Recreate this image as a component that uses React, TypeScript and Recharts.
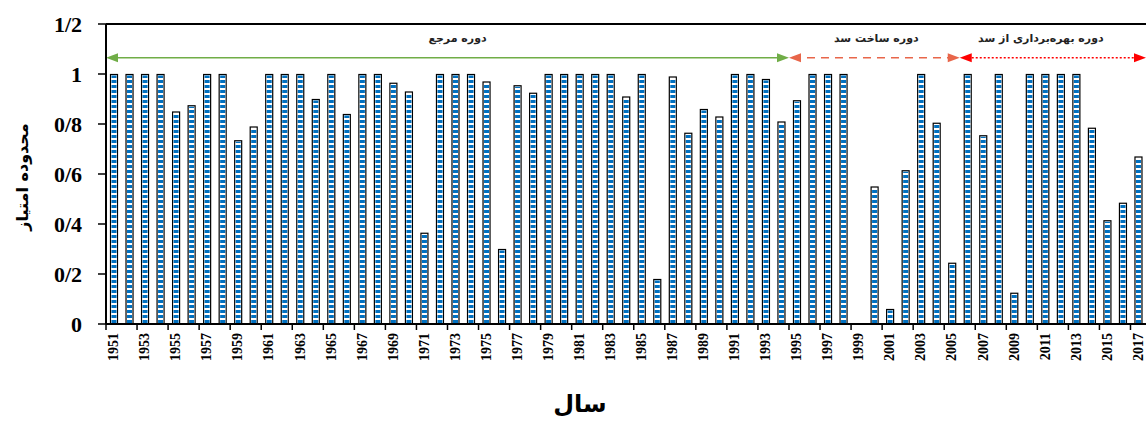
import React from "react";
import { BarChart, Bar, XAxis, YAxis, ReferenceLine } from "recharts";

// سال‌ها (categories)
const years = [
  1951, 1952, 1953, 1954, 1955, 1956, 1957, 1958, 1959, 1960,
  1961, 1962, 1963, 1964, 1965, 1966, 1967, 1968, 1969, 1970,
  1971, 1972, 1973, 1974, 1975, 1976, 1977, 1978, 1979, 1980,
  1981, 1982, 1983, 1984, 1985, 1986, 1987, 1988, 1989, 1990,
  1991, 1992, 1993, 1994, 1995, 1996, 1997, 1998, 1999, 2000,
  2001, 2002, 2003, 2004, 2005, 2006, 2007, 2008, 2009, 2010,
  2011, 2012, 2013, 2014, 2015, 2016, 2017,
];

// محدوده امتیاز per year
const scores = [
  1, 1, 1, 1, 0.85, 0.875, 1, 1, 0.735, 0.79,
  1, 1, 1, 0.9, 1, 0.84, 1, 1, 0.965, 0.93,
  0.365, 1, 1, 1, 0.97, 0.3, 0.955, 0.925, 1, 1,
  1, 1, 1, 0.91, 1, 0.18, 0.99, 0.765, 0.86, 0.83,
  1, 1, 0.98, 0.81, 0.895, 1, 1, 1, 0, 0.55,
  0.06, 0.615, 1, 0.805, 0.245, 1, 0.755, 1, 0.125, 1,
  1, 1, 1, 0.785, 0.415, 0.485, 0.67,
];

const yTicks = [0, 0.2, 0.4, 0.6, 0.8, 1, 1.2];

const periodLabels = ["دوره مرجع", "دوره ساخت سد", "دوره بهره‌برداری از سد"];
const periodFrom = [1951, 1995, 2006];
const periodTo = [1994, 2005, 2017];

const periodStyle = [
  { color: "#70AD47", dash: undefined, dx: 10 },
  { color: "#E8664A", dash: "8 6", dx: 2 },
  { color: "#FF0000", dash: "2 2", dx: -12 },
];

const data = years.map((y, i) => ({ year: y, score: scores[i] }));

const W = 1147;
const H = 421;
const X_H = 45;
const M = { top: 24, right: 1, bottom: 97 - X_H, left: 46 };
const Y_W = 60;
const band = (W - M.left - M.right - Y_W) / years.length;

const persian = "'DejaVu Sans', sans-serif";
const serif = "'Liberation Serif', 'Times New Roman', serif";

const StripedBar = (props: any) => {
  const { x, y, width, height } = props;
  if (!height || height <= 0) return null;
  return (
    <g>
      <rect x={x + 0.5} y={y + 0.5} width={width - 1} height={height - 0.5} fill="#fff" stroke="#000" strokeWidth={1.2} />
      <rect x={x + 1.5} y={y + 1.5} width={width - 3} height={height - 1.5} fill="url(#stripes)" />
    </g>
  );
};

// tick mark on the left boundary of the category + rotated year label
const YearTick = (props: any) => {
  const { x, y, payload } = props;
  const bx = x - band / 2;
  const ly = y + 9;
  return (
    <g>
      <line x1={bx} y1={y} x2={bx} y2={y + 6} stroke="#000" strokeWidth={1.5} />
      <text
        x={x}
        y={ly}
        transform={`rotate(-90, ${x}, ${ly})`}
        textAnchor="end"
        dominantBaseline="central"
        fontFamily={serif}
        fontWeight="bold"
        fontSize={14}
        fill="#000"
      >
        {payload.value}
      </text>
    </g>
  );
};

const makeArrow = (idx: number) => (props: any) => {
  const st = periodStyle[idx];
  const x1 = props.x1 - band / 2;
  const x2 = props.x2 + band / 2;
  const y = props.y1;
  const hl = 12;
  const hh = 4.5;
  return (
    <g>
      <line x1={x1 + 4} y1={y} x2={x2 - 4} y2={y} stroke={st.color} strokeWidth={1.5} strokeDasharray={st.dash} />
      <polygon points={`${x1},${y} ${x1 + hl},${y - hh} ${x1 + hl},${y + hh}`} fill={st.color} />
      <polygon points={`${x2},${y} ${x2 - hl},${y - hh} ${x2 - hl},${y + hh}`} fill={st.color} />
      <text
        x={(x1 + x2) / 2 + st.dx}
        y={y - 16}
        textAnchor="middle"
        fontFamily={persian}
        fontWeight="bold"
        fontSize={11}
        fill="#222"
      >
        {periodLabels[idx]}
      </text>
    </g>
  );
};

const fmt = (v: number) => String(+v.toFixed(1)).replace(".", "/");

export default function App() {
  return (
    <div style={{ position: "absolute", left: 0, top: 0, width: W, height: H, background: "#fff" }}>
      <BarChart width={W} height={H} data={data} margin={M} barSize={8}>
        <defs>
          <pattern id="stripes" patternUnits="userSpaceOnUse" width={5} height={5}>
            <rect x={0} y={0} width={5} height={5} fill="#0070C0" />
            <rect x={0} y={3} width={5} height={2} fill="#ffffff" />
          </pattern>
        </defs>
        <XAxis
          dataKey="year"
          interval={1}
          height={X_H}
          tickSize={0}
          tickMargin={0}
          axisLine={{ stroke: "#000", strokeWidth: 2 }}
          tickLine={false}
          tick={<YearTick />}
        />
        <YAxis
          domain={[0, 1.2]}
          ticks={yTicks}
          width={Y_W}
          tickFormatter={fmt}
          tickSize={8}
          tickMargin={16}
          axisLine={{ stroke: "#000", strokeWidth: 2 }}
          tickLine={{ stroke: "#000", strokeWidth: 1.5 }}
          tick={{ fill: "#000", fontFamily: serif, fontWeight: "bold", fontSize: 22 }}
        />
        <YAxis
          yAxisId="right"
          orientation="right"
          width={0}
          domain={[0, 1.2]}
          tick={false}
          tickLine={false}
          axisLine={{ stroke: "#000", strokeWidth: 3 }}
        />
        <ReferenceLine y={1.2} stroke="#000" strokeWidth={2} />
        <Bar dataKey="score" shape={<StripedBar />} isAnimationActive={false} />
        {periodLabels.map((_, i) => (
          <ReferenceLine
            key={i}
            ifOverflow="visible"
            segment={[
              { x: periodFrom[i], y: 1.065 },
              { x: periodTo[i], y: 1.065 },
            ]}
            shape={makeArrow(i)}
          />
        ))}
      </BarChart>
      <div
        style={{
          position: "absolute",
          left: 22,
          top: 177,
          transform: "translate(-50%, -50%) rotate(-90deg)",
          whiteSpace: "nowrap",
          fontFamily: persian,
          fontWeight: "bold",
          fontSize: 16,
          direction: "rtl",
        }}
      >
        محدوده امتیاز
      </div>
      <div
        style={{
          position: "absolute",
          left: 580,
          top: 404,
          transform: "translate(-50%, -50%)",
          whiteSpace: "nowrap",
          fontFamily: persian,
          fontWeight: "bold",
          fontSize: 24,
          direction: "rtl",
        }}
      >
        سال
      </div>
    </div>
  );
}
